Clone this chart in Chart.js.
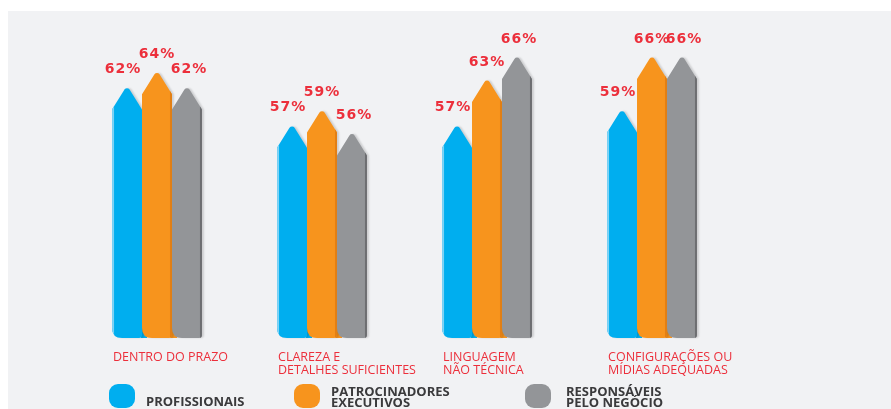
<!DOCTYPE html>
<html>
<head>
<meta charset="utf-8">
<script src="https://cdn.jsdelivr.net/npm/chart.js@4.4.1/dist/chart.umd.min.js"></script>
<style>
  html, body { margin: 0; padding: 0; background: #fff; }
  #wrap { position: relative; width: 891px; height: 409px; overflow: hidden; }
  #panel { position: absolute; left: 8px; top: 11px; right: 0; bottom: 0; background: #f1f2f4; }
  #chart { position: absolute; left: 0; top: 0; }
  .icon { position: absolute; top: 384px; width: 26px; height: 24px; border-radius: 9px; }
  .legtext { position: absolute; font-family: "Open Sans", sans-serif; font-weight: 700; font-size: 13px;
             line-height: 11px; color: #3a3a3c; }
</style>
</head>
<body>
<div id="wrap">
  <div id="panel"></div>
  <canvas id="chart" width="891" height="409"></canvas>
  <div id="legend"></div>
</div>
<script>
const categories = [
  ["DENTRO DO PRAZO"],
  ["CLAREZA E", "DETALHES SUFICIENTES"],
  ["LINGUAGEM", "NÃO TÉCNICA"],
  ["CONFIGURAÇÕES OU", "MÍDIAS ADEQUADAS"]
];
const seriesNames = [
  ["PROFISSIONAIS"],
  ["PATROCINADORES", "EXECUTIVOS"],
  ["RESPONSÁVEIS", "PELO NEGÓCIO"]
];
const profissionais = [62, 57, 57, 59];
const patrocinadores = [64, 59, 63, 66];
const responsaveis = [62, 56, 66, 66];

const colors = ["#00aeef", "#f7941d", "#939598"];
const edgeColors = ["#7fd3f5", "#e27f14", "#6d6e71"];
const labelRed = "#ec2f3b";

// legend (html)
const legendPos = [{ icon: 109, text: 146 }, { icon: 294, text: 331 }, { icon: 525, text: 566 }];
const legendEl = document.getElementById("legend");
seriesNames.forEach((name, i) => {
  const ic = document.createElement("div");
  ic.className = "icon";
  ic.style.left = legendPos[i].icon + "px";
  ic.style.background = colors[i];
  legendEl.appendChild(ic);
  const t = document.createElement("div");
  t.className = "legtext";
  t.style.left = legendPos[i].text + "px";
  t.style.top = (name.length === 1 ? 396 : 386) + "px";
  t.innerHTML = name.join("<br>");
  legendEl.appendChild(t);
});

const arrowBars = {
  id: "arrowBars",
  afterDatasetsDraw(chart) {
    const ctx = chart.ctx;
    const n = chart.data.datasets.length;
    for (let i = 0; i < n; i++) {
      const meta = chart.getDatasetMeta(i);
      meta.data.forEach((el, j) => {
        const { x, y, base, width } = el.getProps(["x", "y", "base", "width"], true);
        const left = x - width / 2, right = x + width / 2;
        const sh = 24;
        ctx.save();
        // fill corner under next bar
        if (i < n - 1) {
          ctx.fillStyle = colors[i];
          ctx.fillRect(right - 1, base - 12, 6, 12);
        }
        ctx.beginPath();
        ctx.moveTo(left, y + sh);
        ctx.arcTo(x, y, right, y + sh, 3);
        ctx.arcTo(right, y + sh, right, base, 2);
        ctx.lineTo(right, base - 3);
        ctx.quadraticCurveTo(right, base, right - 3, base);
        ctx.lineTo(left + 10, base);
        ctx.quadraticCurveTo(left, base, left, base - 10);
        ctx.closePath();
        ctx.shadowColor = "rgba(0,0,0,0.15)";
        ctx.shadowOffsetX = 2;
        ctx.shadowBlur = 2;
        ctx.fillStyle = colors[i];
        ctx.fill();
        ctx.shadowColor = "transparent";
        ctx.clip();
        ctx.fillStyle = edgeColors[i];
        if (i === 0) ctx.fillRect(left, y, 2, base - y);
        else ctx.fillRect(right - 2, y, 2, base - y);
        ctx.restore();

        // value label
        const offs = [-4, 0, 2];
        ctx.save();
        ctx.font = "bold 14px 'DejaVu Sans'";
        ctx.letterSpacing = "1px";
        ctx.fillStyle = labelRed;
        ctx.textAlign = "center";
        ctx.textBaseline = "middle";
        ctx.fillText(chart.data.datasets[i].data[j] + "%", x + offs[i], y - 16);
        ctx.restore();
      });
    }
    // category labels, left aligned on first bar
    const meta0 = chart.getDatasetMeta(0);
    ctx.save();
    ctx.font = "12.5px 'Open Sans'";
    ctx.fillStyle = labelRed;
    ctx.textAlign = "left";
    ctx.textBaseline = "middle";
    meta0.data.forEach((el, j) => {
      const left = el.x - el.width / 2 + 1;
      chart.data.labels[j].forEach((line, k) => {
        ctx.fillText(line, left, 357 + k * 13);
      });
    });
    ctx.restore();
  }
};

new Chart(document.getElementById("chart"), {
  type: "bar",
  data: {
    labels: categories,
    datasets: [
      { label: seriesNames[0].join(" "), data: profissionais },
      { label: seriesNames[1].join(" "), data: patrocinadores },
      { label: seriesNames[2].join(" "), data: responsaveis }
    ].map(d => Object.assign(d, {
      backgroundColor: "rgba(0,0,0,0)",
      categoryPercentage: 0.545,
      barPercentage: 1,
      base: 29
    }))
  },
  options: {
    responsive: false,
    animation: false,
    layout: { padding: { left: 74.5, right: 156.5, top: 32, bottom: 71 } },
    scales: {
      x: { display: false },
      y: { display: false, min: 29, max: 69 }
    },
    plugins: { legend: { display: false }, tooltip: { enabled: false } }
  },
  plugins: [arrowBars]
});
</script>
</body>
</html>
